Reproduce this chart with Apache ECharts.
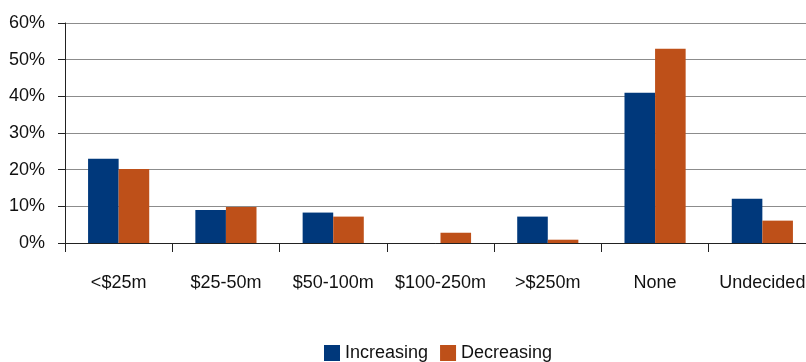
<!DOCTYPE html>
<html><head><meta charset="utf-8">
<script src="https://cdn.jsdelivr.net/npm/echarts@6/dist/echarts.min.js"></script>
<style>html,body{margin:0;padding:0;background:#fff}#c{width:806px;height:362px}</style>
</head><body><div id="c"></div>
<script>
var categories = ['<$25m', '$25-50m', '$50-100m', '$100-250m', '>$250m', 'None', 'Undecided'];
var increasing = [23, 9, 8.3, 0, 7.2, 41, 12.1];
var decreasing = [20.2, 9.8, 7.2, 2.8, 0.9, 53, 6.1];
var yTicks = [0, 10, 20, 30, 40, 50, 60];
var seriesNames = ['Increasing', 'Decreasing'];

var FONT = '"Liberation Sans", Arial, sans-serif';
var chart = echarts.init(document.getElementById('c'));
chart.setOption({
  animation: false,
  textStyle: { fontFamily: FONT },
  grid: { left: 65, top: 23, width: 751, bottom: 119, containLabel: false, outerBoundsMode: 'none' },
  legend: {
    data: seriesNames,
    bottom: -5, left: 319,
    itemWidth: 16, itemHeight: 16, itemGap: 12,
    icon: 'rect',
    textStyle: { fontFamily: FONT, fontSize: 18, color: '#111' }
  },
  xAxis: {
    type: 'category',
    data: categories,
    axisLine: { lineStyle: { color: '#222', width: 1 } },
    axisTick: { show: true, length: 9, alignWithLabel: false, lineStyle: { color: '#222' } },
    axisLabel: { interval: 0, fontFamily: FONT, fontSize: 18, color: '#111', margin: 31 }
  },
  yAxis: {
    type: 'value',
    min: yTicks[0], max: yTicks[yTicks.length - 1], interval: 10,
    axisLine: { show: true, lineStyle: { color: '#222' } },
    axisTick: { show: true, length: 7, lineStyle: { color: '#222' } },
    splitLine: { lineStyle: { color: '#8c8c8c', width: 1 } },
    axisLabel: { formatter: '{value}%', fontFamily: FONT, fontSize: 18, color: '#111', margin: 20 }
  },
  series: [
    { name: seriesNames[0], type: 'bar', data: increasing, barGap: '0%', barCategoryGap: '43%',
      itemStyle: { color: '#00387B' } },
    { name: seriesNames[1], type: 'bar', data: decreasing,
      itemStyle: { color: '#BE5019' } }
  ]
});
</script></body></html>
